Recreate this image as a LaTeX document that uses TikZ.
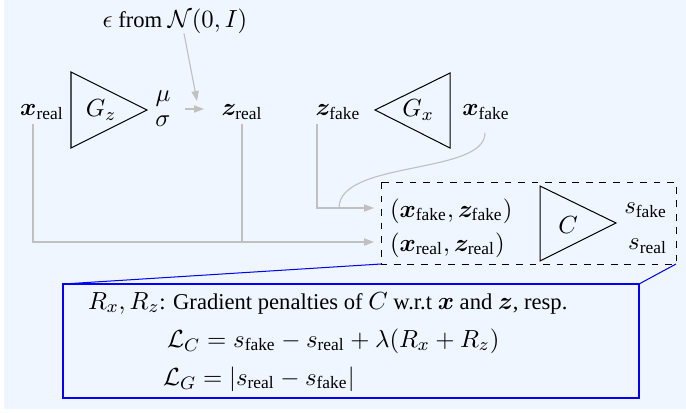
\documentclass[tikz,border=0pt]{standalone}
\usepackage{amsmath}
\usepackage{bm}
\usepackage{fontspec}
\setmainfont{Liberation Serif}
\DeclareMathSizes{10}{11}{7.7}{5.5}
\usetikzlibrary{arrows.meta}
\definecolor{bgc}{RGB}{240,246,255}
\definecolor{linec}{RGB}{192,192,192}
\tikzset{
  txt/.style={inner sep=0pt, outer sep=0pt},
  conn/.style={draw=linec, line width=0.5pt},
  arr/.style={conn, -{Triangle[length=4.4pt,width=3.2pt]}, color=linec},
  tri/.style={draw=black, line width=0.45pt, line join=miter},
  bluebox/.style={draw=blue, line width=0.85pt},
  blueline/.style={draw=blue, line width=0.45pt},
}
\begin{document}
\begin{tikzpicture}[x=0.4425pt, y=-0.4425pt]
\useasboundingbox (0,0) rectangle (686,412);
\fill[bgc] (4,0) rectangle (686,409);

% top noise label
\node[txt] (eps) at (175,21) {$\epsilon$ from $\mathcal{N}(0,I)$};

% row of nodes
\node[txt] (xr) at (42,112) {$\bm{x}_{\mathrm{real}}$};
\draw[tri] (71,72) -- (147,110) -- (71,148) -- cycle;
\node[txt] (gz) at (101,110) {$G_z$};
\node[txt] (mu) at (163,99) {$\mu$};
\node[txt] (sigma) at (163,121) {$\sigma$};
\node[txt] (zr) at (242,112) {$\bm{z}_{\mathrm{real}}$};

\node[txt] (zf) at (338,112) {$\bm{z}_{\mathrm{fake}}$};
\draw[tri] (450,73) -- (375,110) -- (450,148) -- cycle;
\node[txt] (gx) at (418,110) {$G_x$};
\node[txt] (xf) at (486,112) {$\bm{x}_{\mathrm{fake}}$};

% critic block
\draw[dashed, line width=0.4pt] (381,182) rectangle (676,264);
\coordinate (dbl) at (381,264);
\coordinate (dbr) at (676,264);
\node[txt, anchor=west] (pf) at (390,211) {$(\bm{x}_{\mathrm{fake}},\bm{z}_{\mathrm{fake}})$};
\node[txt, anchor=west] (pr) at (390,245) {$(\bm{x}_{\mathrm{real}},\bm{z}_{\mathrm{real}})$};
\draw[tri] (540,186) -- (616,223) -- (540,261) -- cycle;
\node[txt] (c) at (568,225) {$C$};
\node[txt, anchor=east] (sf) at (667,210) {$s_{\mathrm{fake}}$};
\node[txt, anchor=east] (sr) at (667,246) {$s_{\mathrm{real}}$};

% connectors
\coordinate (epsend) at (197,101);
\draw[arr] (eps.south -| 184,0) -- (epsend);
\coordinate (msout) at (185,109);
\coordinate (msin) at (204,109);
\draw[arr] (msout) -- (msin);

\coordinate (xrdown) at (33,124);
\coordinate (zrdown) at (242,124);
\coordinate (zfdown) at (317,124);
\coordinate (xfdown) at (485,133);
\coordinate (pfin) at (374,208);
\coordinate (prin) at (374,242);
\draw[arr] (xrdown) |- (prin);
\draw[conn] (zrdown) -- (zrdown |- prin);
\draw[arr] (zfdown) |- (pfin);
\draw[conn] (xfdown) .. controls (485,175) and (339,160) .. (339,208);

% loss box
\draw[bluebox] (63,284) rectangle (639,398);
\coordinate (lbl) at (63,284);
\coordinate (lbr) at (639,284);
\draw[blueline] (lbl) -- (dbl);
\draw[blueline] (lbr) -- (dbr);
\node[txt, anchor=west] (rdef) at (88,303) {$R_x, R_z$: Gradient penalties of $C$ w.r.t $\bm{x}$ and $\bm{z}$, resp.};
\node[txt, anchor=west] (lc) at (167,341) {$\mathcal{L}_C = s_{\mathrm{fake}} - s_{\mathrm{real}} + \lambda(R_x + R_z)$};
\node[txt, anchor=west] (lg) at (163,379) {$\mathcal{L}_G = \left|s_{\mathrm{real}} - s_{\mathrm{fake}}\right|$};
\end{tikzpicture}
\end{document}
